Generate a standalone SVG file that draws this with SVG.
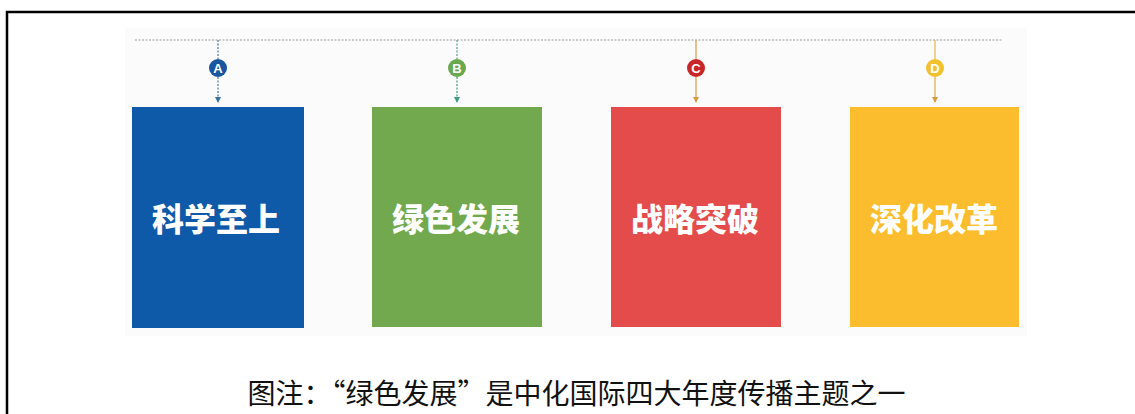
<svg xmlns="http://www.w3.org/2000/svg" width="1135" height="414" viewBox="0 0 1135 414">
<style>
.box-label{font-family:"Noto Sans CJK SC","Liberation Sans",sans-serif;font-weight:900;font-size:32px;fill:#ffffff;text-anchor:middle}
.badge{font-family:"Liberation Sans","Noto Sans",sans-serif;font-weight:bold;font-size:13px;fill:#ffffff;text-anchor:middle}
.caption{font-family:"Noto Sans CJK SC","Liberation Sans",sans-serif;font-weight:400;font-size:28px;fill:#111111;text-anchor:middle}
.dash{stroke-width:1.2;stroke-dasharray:2 1.5;fill:none}
</style>
<defs>
<marker id="arrBlue" markerWidth="6" markerHeight="6" refX="3" refY="5" viewBox="0 0 6 6" markerUnits="userSpaceOnUse"><path d="M0,0 L6,0 L3,6 Z" fill="#3a6f9a"/></marker>
<marker id="arrGreen" markerWidth="6" markerHeight="6" refX="3" refY="5" viewBox="0 0 6 6" markerUnits="userSpaceOnUse"><path d="M0,0 L6,0 L3,6 Z" fill="#3f9a80"/></marker>
<marker id="arrOrange" markerWidth="6" markerHeight="6" refX="3" refY="5" viewBox="0 0 6 6" markerUnits="userSpaceOnUse"><path d="M0,0 L6,0 L3,6 Z" fill="#d99a4a"/></marker>
</defs>
<rect x="0" y="0" width="1135" height="414" fill="#ffffff"/>
<rect x="125" y="28" width="902" height="308" fill="#fbfbfb"/>
<path d="M7,414 V12 H1135" fill="none" stroke="#000000" stroke-width="2.5"/>
<g id="connectors">
<line x1="135" y1="40" x2="1002" y2="40" stroke="#9a9a9a" class="dash"/>
<line x1="218" y1="40" x2="218" y2="59" stroke="#4a7a9a" class="dash"/>
<line x1="218" y1="77" x2="218" y2="102" stroke="#4a7a9a" class="dash" marker-end="url(#arrBlue)"/>
<line x1="457" y1="40" x2="457" y2="59" stroke="#5a9a90" class="dash"/>
<line x1="457" y1="77" x2="457" y2="102" stroke="#3f9a80" class="dash" marker-end="url(#arrGreen)"/>
<line x1="696" y1="40" x2="696" y2="59" stroke="#d99a4a" stroke-width="1.2"/>
<line x1="696" y1="77" x2="696" y2="102" stroke="#d99a4a" stroke-width="1.2" marker-end="url(#arrOrange)"/>
<line x1="935" y1="40" x2="935" y2="59" stroke="#e8b84a" stroke-width="1.2"/>
<line x1="935" y1="77" x2="935" y2="102" stroke="#e0a84a" stroke-width="1.2" marker-end="url(#arrOrange)"/>
</g>
<g id="node-a">
<circle cx="218" cy="68" r="9" fill="#1a55a0"/>
<text class="badge" x="218" y="72.7">A</text>
<rect x="132" y="107" width="172" height="221" fill="#0f5aa8"/>
<text class="box-label" x="216" y="231">科学至上</text>
</g>
<g id="node-b">
<circle cx="457" cy="68" r="9" fill="#6aa84f"/>
<text class="badge" x="457" y="72.7">B</text>
<rect x="372" y="107" width="170" height="220" fill="#72a94e"/>
<text class="box-label" x="456" y="231">绿色发展</text>
</g>
<g id="node-c">
<circle cx="696" cy="68" r="9" fill="#c9262a"/>
<text class="badge" x="696" y="72.7">C</text>
<rect x="611" y="107" width="170" height="220" fill="#e44c4c"/>
<text class="box-label" x="695" y="231">战略突破</text>
</g>
<g id="node-d">
<circle cx="935" cy="68" r="9" fill="#f2c12e"/>
<text class="badge" x="935" y="72.7">D</text>
<rect x="850" y="107" width="169" height="220" fill="#fbbd2e"/>
<text class="box-label" x="934" y="231">深化改革</text>
</g>
<text class="caption" x="576.5" y="404">图注：“绿色发展”是中化国际四大年度传播主题之一</text>
</svg>
